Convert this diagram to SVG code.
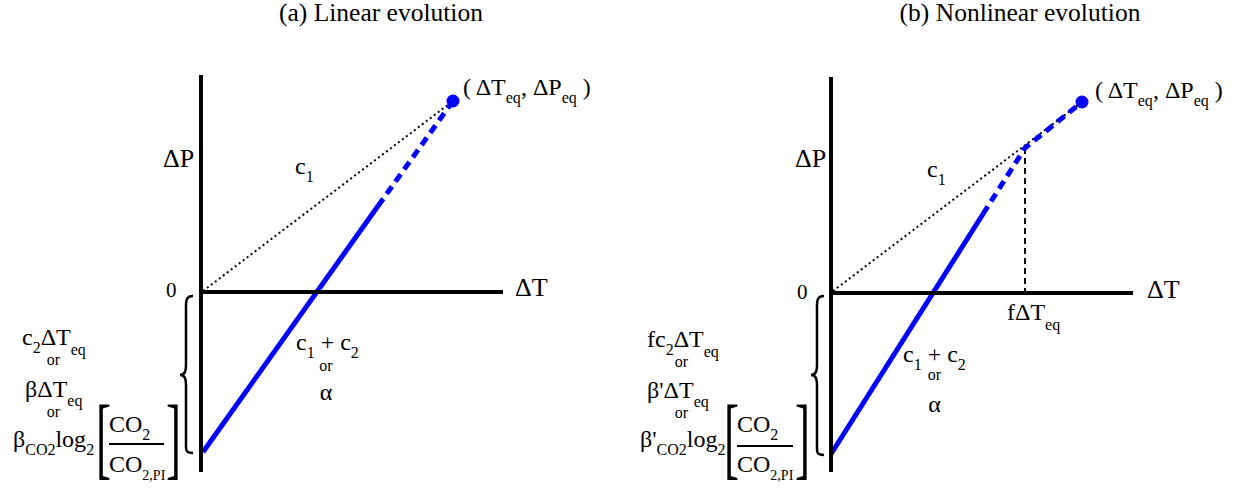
<svg xmlns="http://www.w3.org/2000/svg" width="1234" height="489" viewBox="0 0 1234 489" font-family="'Liberation Serif', 'Times New Roman', serif">
<style>
text{fill:#000}
.t{font-size:25.5px}
.m{font-size:24px}
.ax{font-size:26px}
.z{font-size:21px}
.s{font-size:16px}
.s2{font-size:14px}
.axis{stroke:#000;stroke-width:4;fill:none}
.dot{stroke:#000;stroke-width:2;stroke-dasharray:2 3;fill:none}
.vd{stroke:#000;stroke-width:2;stroke-dasharray:6 4;fill:none}
.bs{stroke:#0000ff;stroke-width:5;fill:none}
.bd{stroke:#0000ff;stroke-width:5;stroke-dasharray:9 6;fill:none}
.brace{stroke:#000;stroke-width:2.5;fill:none}
.bar{stroke:#000;stroke-width:2}
</style>
<rect width="1234" height="489" fill="#fff"/>
<g id="connectors">
<line class="dot" x1="203" y1="291" x2="453" y2="101"/>
<line class="bs" x1="203" y1="452" x2="378" y2="206"/>
<line class="bd" x1="378" y1="206" x2="453" y2="101"/>
<line class="dot" x1="833" y1="291" x2="1082" y2="102"/>
<line class="vd" x1="1025" y1="148" x2="1025" y2="292"/>
<line class="bs" x1="831" y1="454" x2="983" y2="214"/>
<polyline class="bd" points="983,214 1025,148 1082,102"/>
</g>
<g id="panel-a">
<text class="t" x="381" y="21" text-anchor="middle">(a) Linear evolution</text>
<line class="axis" x1="201" y1="75" x2="201" y2="472"/>
<line class="axis" x1="199" y1="292" x2="503" y2="292"/>
<circle cx="453" cy="101" r="6.5" fill="#0000ff"/>
<text class="ax" x="163" y="167">ΔP</text>
<text class="ax" x="515" y="296">ΔT</text>
<text class="z" x="166" y="297">0</text>
<text class="m" x="463" y="95">( ΔT<tspan class="s" dy="8">eq</tspan><tspan dy="-8">, ΔP</tspan><tspan class="s" dy="8">eq</tspan><tspan dy="-8"> )</tspan></text>
<text class="m" x="295" y="174">c<tspan class="s" dy="8">1</tspan></text>
<text class="m" x="296" y="350">c<tspan class="s" dy="8">1</tspan><tspan dy="-8"> + c</tspan><tspan class="s" dy="8">2</tspan></text>
<text class="s" x="326" y="371" text-anchor="middle">or</text>
<text class="m" x="326" y="400" text-anchor="middle">α</text>
<path class="brace" d="M193,296 C185,296 186,302 186,312 L186,364 C186,371 185,375 180,375 C185,375 186,379 186,386 L186,441 C186,450 185,453 193,453"/>
<text class="m" x="22" y="345">c<tspan class="s" dy="8">2</tspan><tspan dy="-8">ΔT</tspan><tspan class="s" dy="10">eq</tspan></text>
<text class="s" x="53.5" y="365" text-anchor="middle">or</text>
<text class="m" x="25" y="397">βΔT<tspan class="s" dy="9">eq</tspan></text>
<text class="s" x="53.5" y="417" text-anchor="middle">or</text>
<text class="m" x="13" y="447">β<tspan class="s" dy="8">CO2</tspan><tspan dy="-8">log</tspan><tspan class="s" dy="8">2</tspan></text>
<text style="font-size:90px" transform="translate(96,468) scale(0.5,1)">[</text>
<text class="m" x="109" y="432">CO<tspan class="s" dy="8">2</tspan></text>
<line class="bar" x1="109" y1="444" x2="164" y2="444"/>
<text class="m" x="109" y="472">CO<tspan class="s2" dy="8">2,PI</tspan></text>
<text style="font-size:90px" transform="translate(166,468) scale(0.5,1)">]</text>
</g>
<g id="panel-b">
<text class="t" x="1020" y="21" text-anchor="middle">(b) Nonlinear evolution</text>
<line class="axis" x1="831" y1="77" x2="831" y2="472"/>
<line class="axis" x1="829" y1="293" x2="1133" y2="293"/>
<circle cx="1082" cy="102" r="6.5" fill="#0000ff"/>
<text class="ax" x="795" y="167">ΔP</text>
<text class="ax" x="1147" y="298">ΔT</text>
<text class="z" x="797" y="299">0</text>
<text class="m" x="1095" y="98">( ΔT<tspan class="s" dy="8">eq</tspan><tspan dy="-8">, ΔP</tspan><tspan class="s" dy="8">eq</tspan><tspan dy="-8"> )</tspan></text>
<text class="m" x="927" y="177">c<tspan class="s" dy="8">1</tspan></text>
<text class="m" x="1007" y="320">fΔT<tspan class="s" dy="10">eq</tspan></text>
<text class="m" x="903" y="362">c<tspan class="s" dy="8">1</tspan><tspan dy="-8"> + c</tspan><tspan class="s" dy="8">2</tspan></text>
<text class="s" x="934.5" y="380" text-anchor="middle">or</text>
<text class="m" x="934.5" y="412" text-anchor="middle">α</text>
<path class="brace" d="M824,296 C816,296 817,302 817,312 L817,364 C817,371 816,375 811,375 C816,375 817,379 817,386 L817,443 C817,452 816,455 824,455"/>
<text class="m" x="647" y="347">fc<tspan class="s" dy="8">2</tspan><tspan dy="-8">ΔT</tspan><tspan class="s" dy="10">eq</tspan></text>
<text class="s" x="681.5" y="367" text-anchor="middle">or</text>
<text class="m" x="647" y="398">β'ΔT<tspan class="s" dy="9">eq</tspan></text>
<text class="s" x="681.5" y="418" text-anchor="middle">or</text>
<text class="m" x="640" y="447">β'<tspan class="s" dy="8">CO2</tspan><tspan dy="-8">log</tspan><tspan class="s" dy="8">2</tspan></text>
<text style="font-size:90px" transform="translate(724,468) scale(0.5,1)">[</text>
<text class="m" x="737" y="432">CO<tspan class="s" dy="8">2</tspan></text>
<line class="bar" x1="737" y1="446" x2="793" y2="446"/>
<text class="m" x="737" y="472">CO<tspan class="s2" dy="8">2,PI</tspan></text>
<text style="font-size:90px" transform="translate(795,468) scale(0.5,1)">]</text>
</g>
</svg>
